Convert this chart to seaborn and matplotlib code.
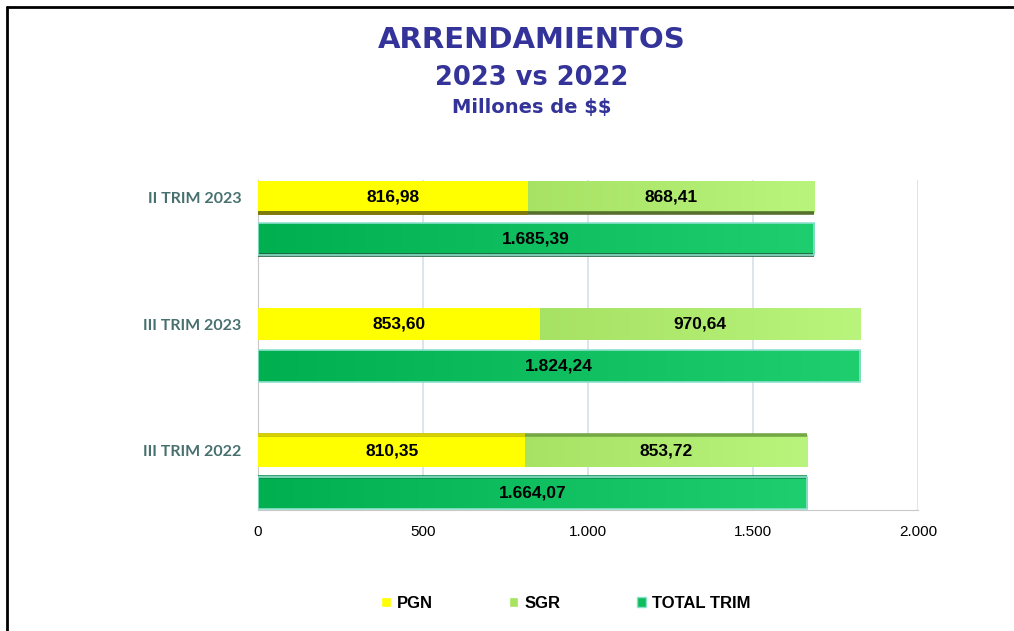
import numpy as np
import pandas as pd
import matplotlib.pyplot as plt
import seaborn as sns
from matplotlib.lines import Line2D
from matplotlib.patches import Patch
from matplotlib.colors import LinearSegmentedColormap

# Data (Millones de $$)
periods = ["II TRIM 2023", "III TRIM 2023", "III TRIM 2022"]
pgn = [816.98, 853.60, 810.35]
sgr = [868.41, 970.64, 853.72]
total = [1685.39, 1824.24, 1664.07]
x_ticks = [0, 500, 1000, 1500, 2000]

c_pgn = "#FFFF00"
c_sgr = "#A6E35F"
c_total = "#0DBE5C"
title_color = "#333399"


def fmt(v):
    s = f"{v:,.2f}"
    return s.replace(",", "X").replace(".", ",").replace("X", ".")


stack_df = pd.DataFrame({"period": periods, "kind": "stack",
                         "value": [a + b for a, b in zip(pgn, sgr)]})
total_df = pd.DataFrame({"period": periods, "kind": "total", "value": total})
pgn_df = pd.DataFrame({"period": periods, "kind": "stack", "value": pgn})
base = pd.concat([stack_df, total_df], ignore_index=True)

sns.set_style("white")
plt.rcParams["font.family"] = ["Liberation Sans", "DejaVu Sans"]
plt.rcParams["text.color"] = "black"
plt.rcParams["xtick.color"] = "black"

fig = plt.figure(figsize=(10.14, 6.31), dpi=100)
ax = fig.add_axes([0.2544, 0.1918, 0.6509, 0.5229])

hue_order = ["stack", "total"]
kw = dict(y="period", x="value", hue="kind", hue_order=hue_order, order=periods,
          orient="h", width=0.66, gap=0.25, dodge=True, errorbar=None, saturation=1,
          legend=False, ax=ax, linewidth=0, zorder=3)
sns.barplot(data=base, palette={"stack": c_sgr, "total": c_total}, **kw)
n_base = len(ax.patches)
sns.barplot(data=pgn_df, palette={"stack": c_pgn, "total": c_pgn}, **kw)

stack_bars = ax.patches[:3]
total_bars = ax.patches[3:6]
pgn_bars = ax.patches[n_base:n_base + 3]

ax.set_xlim(0, 2000)
ax.set_ylim(2.3, -0.3)

# gradient fills, clipped to the bars
grad = np.linspace(0, 1, 256).reshape(1, -1)
cm_sgr = LinearSegmentedColormap.from_list("sgr", ["#96D24E", "#B9F47C"])
cm_tot = LinearSegmentedColormap.from_list("tot", ["#00B050", "#1FCE6E"])
for bars, cm in [(stack_bars, cm_sgr), (total_bars, cm_tot)]:
    for p in bars:
        x0, y0 = p.get_x(), p.get_y()
        w, h = p.get_width(), p.get_height()
        im = ax.imshow(grad, cmap=cm, aspect="auto", extent=(x0, x0 + w, y0 + h, y0),
                       zorder=3.5, interpolation="bicubic")
        im.set_clip_path(p)
for p in pgn_bars:
    p.set_zorder(4)

# 3D look: lower face on the top group, upper face on the bottom group
faces = [(stack_bars, "#55702C", "#74A845"), (pgn_bars, "#7F7A08", "#D8D000"),
         (total_bars, "#1E5E3A", "#0C8F4E")]
for bars, dark, top in faces:
    for i, p in enumerate(bars):
        xs = [p.get_x(), p.get_x() + p.get_width()]
        if i == 0:
            yb = p.get_y() + p.get_height()
            ax.plot(xs, [yb, yb], color=dark, lw=2.6, solid_capstyle="butt", zorder=4.5)
        elif i == 2:
            ax.plot(xs, [p.get_y(), p.get_y()], color=top, lw=2.6,
                    solid_capstyle="butt", zorder=4.5)
for p in total_bars:
    p.set_edgecolor("#8FE0CC")
    p.set_linewidth(1.2)
    p.set_zorder(5)
    p.set_facecolor("none")

lab_kw = dict(ha="center", va="center", fontsize=12.5, fontweight="bold", color="black", zorder=6)
for i, p in enumerate(pgn_bars):
    yc = p.get_y() + p.get_height() / 2
    ax.text(pgn[i] / 2, yc, fmt(pgn[i]), **lab_kw)
    ax.text(pgn[i] + sgr[i] / 2, yc, fmt(sgr[i]), **lab_kw)
for i, p in enumerate(total_bars):
    yc = p.get_y() + p.get_height() / 2
    ax.text(total[i] / 2, yc, fmt(total[i]), **lab_kw)

ax.set_xticks(x_ticks)
ax.set_xticklabels([fmt(v).split(",")[0] for v in x_ticks], fontsize=11)
ax.set_yticks([p.get_y() + p.get_height() / 2 for p in stack_bars])
ax.set_yticklabels(periods, fontsize=11.5, fontweight="bold", color="#47706F",
                   family=["Lato", "DejaVu Sans"])
ax.tick_params(axis="x", length=0, pad=11)
ax.tick_params(axis="y", length=0, pad=12)
ax.set_xlabel("")
ax.set_ylabel("")
ax.grid(axis="x", color="#D6DFEA", linewidth=1.2, zorder=0)
ax.grid(axis="y", visible=False)
for s in ["top", "right"]:
    ax.spines[s].set_visible(False)
ax.spines["left"].set_color("#C8C8C8")
ax.spines["bottom"].set_color("#C8C8C8")

# titles
tfam = ["DejaVu Sans"]
fig.text(0.524, 0.936, "ARRENDAMIENTOS", ha="center", va="center", fontsize=21,
         fontweight="bold", color=title_color, family=tfam)
fig.text(0.524, 0.877, "2023 vs 2022", ha="center", va="center", fontsize=18.5,
         fontweight="bold", color=title_color, family=tfam)
fig.text(0.524, 0.830, r"Millones de \$\$", ha="center", va="center", fontsize=14,
         fontweight="bold", color=title_color, family=tfam)

# legend
handles = [Patch(facecolor=c_pgn), Patch(facecolor=c_sgr),
           Patch(facecolor=c_total, edgecolor="#8FE0CC")]
leg = fig.legend(handles, ["PGN", "SGR", "TOTAL TRIM"], loc="center", ncol=3,
                 bbox_to_anchor=(0.558, 0.043), frameon=False, handlelength=0.55,
                 handleheight=0.55, handletextpad=0.35, columnspacing=4.6,
                 prop={"weight": "bold", "size": 12})
for t in leg.get_texts():
    t.set_color("black")

# frame lines (top and left)
fig.add_artist(Line2D([7 / 1014, 1], [1 - 7 / 631, 1 - 7 / 631], color="black", linewidth=2,
                      transform=fig.transFigure))
fig.add_artist(Line2D([7 / 1014, 7 / 1014], [0, 1 - 7 / 631], color="black", linewidth=2,
                      transform=fig.transFigure))

fig.savefig("out.png", dpi=100)
